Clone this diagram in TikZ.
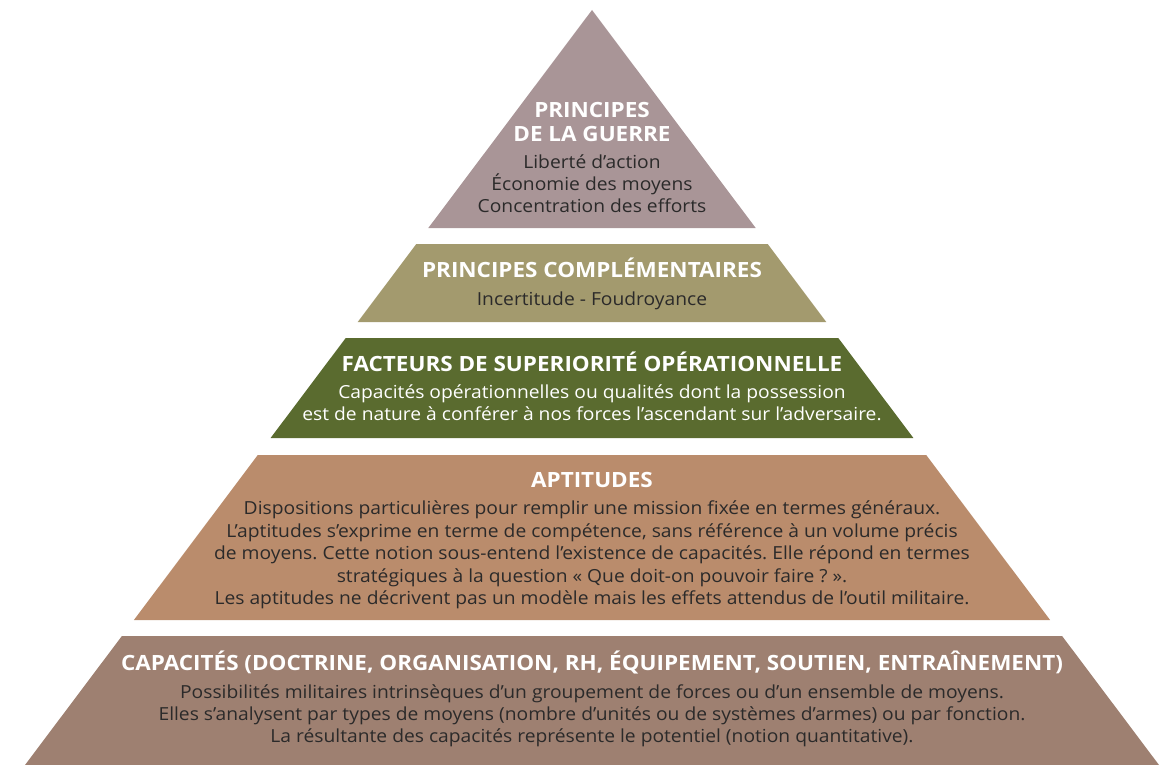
\documentclass[tikz,border=0pt]{standalone}
\usepackage{fontspec}
\setmainfont{Open Sans}[FakeStretch=1.07]
\definecolor{cA}{HTML}{A99597}
\definecolor{cB}{HTML}{A39A6E}
\definecolor{cC}{HTML}{5A6B2F}
\definecolor{cD}{HTML}{BA8C6C}
\definecolor{cE}{HTML}{9E8071}
\definecolor{txt}{HTML}{2B2A2A}
\frenchspacing
\begin{document}
\begin{tikzpicture}[x=1pt,y=-1pt,
  hd/.style={text=white,font=\fontsize{21}{21}\selectfont\bfseries,inner sep=0pt,anchor=base},
  bd/.style={text=txt,font=\fontsize{18}{18}\selectfont,inner sep=0pt,anchor=base},
  bw/.style={bd,text=white}]
\useasboundingbox (0,0) rectangle (1164,765);
\begin{scope}
\clip (0,0) rectangle (1164,765);
\fill[cA] (592,10) -- (755.7,228) -- (428.3,228) -- cycle;
\fill[cB] (416.3,244) -- (767.7,244) -- (826.3,322) -- (357.7,322) -- cycle;
\fill[cC] (345.7,338) -- (838.3,338) -- (913.4,438) -- (270.6,438) -- cycle;
\fill[cD] (257.8,455) -- (926.2,455) -- (1050.1,620) -- (133.9,620) -- cycle;
\fill[cE] (121.9,636) -- (1062.1,636) -- (1159,765) -- (25,765) -- cycle;
\end{scope}
% layer 1
\node[hd] (a1) at (592,118) {PRINCIPES};
\node[hd] (a2) at (592,142) {DE LA GUERRE};
\node[bd] (a3) at (592,168) {Liberté d’action};
\node[bd] (a4) at (592,190) {Économie des moyens};
\node[bd] (a5) at (592,212) {Concentration des efforts};
% layer 2
\node[hd] (b1) at (592,277) {PRINCIPES COMPLÉMENTAIRES};
\node[bd] (b2) at (592,305) {Incertitude - Foudroyance};
% layer 3
\node[hd] (c1) at (592,371) {FACTEURS DE SUPERIORITÉ OPÉRATIONNELLE};
\node[bw] (c2) at (592,398) {Capacités opérationnelles ou qualités dont la possession};
\node[bw] (c3) at (592,420) {est de nature à conférer à nos forces l’ascendant sur l’adversaire.};
% layer 4
\node[hd] (d1) at (592,487) {APTITUDES};
\node[bd] (d2) at (592,514) {Dispositions particulières pour remplir une mission fixée en termes généraux.};
\node[bd] (d3) at (592,537) {L’aptitudes s’exprime en terme de compétence, sans référence à un volume précis};
\node[bd] (d4) at (592,559) {de moyens. Cette notion sous-entend l’existence de capacités. Elle répond en termes};
\node[bd] (d5) at (592,582) {stratégiques à la question « Que doit-on pouvoir faire ? ».};
\node[bd] (d6) at (592,604) {Les aptitudes ne décrivent pas un modèle mais les effets attendus de l’outil militaire.};
% layer 5
\node[hd] (e1) at (592,670) {CAPACITÉS (DOCTRINE, ORGANISATION, RH, ÉQUIPEMENT, SOUTIEN, ENTRAÎNEMENT)};
\node[bd] (e2) at (592,698) {Possibilités militaires intrinsèques d’un groupement de forces ou d’un ensemble de moyens.};
\node[bd] (e3) at (592,720) {Elles s’analysent par types de moyens (nombre d’unités ou de systèmes d’armes) ou par fonction.};
\node[bd] (e4) at (592,742) {La résultante des capacités représente le potentiel (notion quantitative).};
\end{tikzpicture}
\end{document}
